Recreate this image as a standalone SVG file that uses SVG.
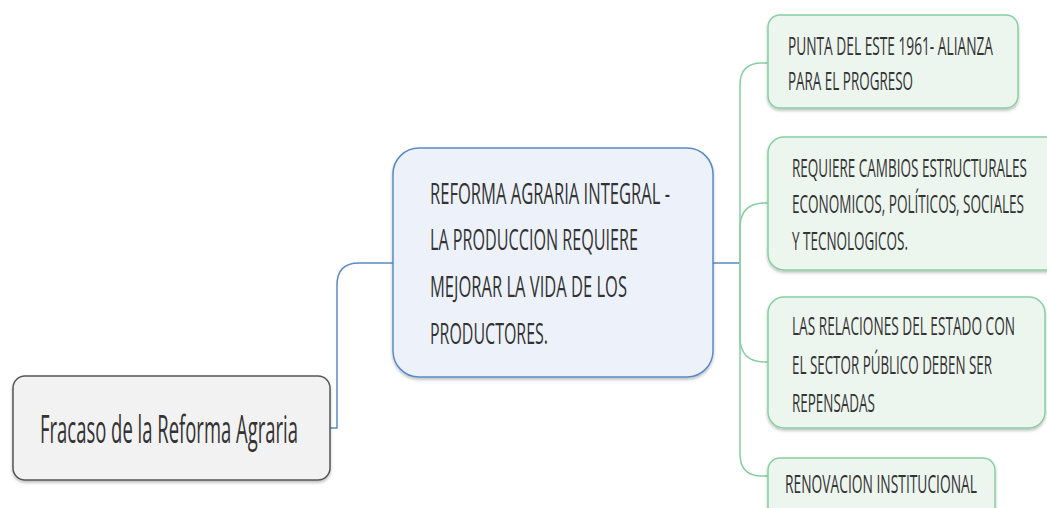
<svg xmlns="http://www.w3.org/2000/svg" width="1047" height="508" viewBox="0 0 1047 508">
<defs>
<filter id="sh" x="-10%" y="-10%" width="120%" height="130%">
<feDropShadow dx="0" dy="2" stdDeviation="1.5" flood-color="#000" flood-opacity="0.25"/>
</filter>
</defs>
<style>
.t{font-family:"Open Sans","Noto Sans","DejaVu Sans",sans-serif;fill:#333;}
.root{fill:#f2f2f2;stroke:#555;stroke-width:1.5;}
.main{fill:#edf2fa;stroke:#5a8ac6;stroke-width:1.5;}
.leaf{fill:#edf5ef;stroke:#86cfa0;stroke-width:1.5;}
.cb{fill:none;stroke:#5a8ac6;stroke-width:1.5;}
.cg{fill:none;stroke:#86cfa0;stroke-width:1.5;}
</style>
<g id="connectors">
<path class="cb" d="M330,428 H337 V285 Q337,263 359,263 H393"/>
<path class="cb" d="M713,263 H740"/>
<path class="cg" d="M740,263 V85 Q740,63 762,63 H768"/>
<path class="cg" d="M740,263 V228 Q740,203 765,203 H768"/>
<path class="cg" d="M740,263 V337 Q740,362 765,362 H768"/>
<path class="cg" d="M740,263 V454 Q740,476 762,476 H768"/>
</g>
<g id="root">
<rect class="root" x="13" y="376" width="317" height="104" rx="12" filter="url(#sh)"/>
<text class="t" x="40" y="443" font-size="38" textLength="258" lengthAdjust="spacingAndGlyphs">Fracaso de la Reforma Agraria</text>
</g>
<g id="main">
<rect class="main" x="393" y="148" width="320" height="229" rx="26" filter="url(#sh)"/>
<text class="t" font-size="29" x="430" y="204" textLength="240" lengthAdjust="spacingAndGlyphs">REFORMA AGRARIA INTEGRAL -</text>
<text class="t" font-size="29" x="430" y="250" textLength="208" lengthAdjust="spacingAndGlyphs">LA PRODUCCION REQUIERE</text>
<text class="t" font-size="29" x="430" y="297" textLength="197" lengthAdjust="spacingAndGlyphs">MEJORAR LA VIDA DE LOS</text>
<text class="t" font-size="29" x="430" y="344" textLength="118" lengthAdjust="spacingAndGlyphs">PRODUCTORES.</text>
</g>
<g id="c1">
<rect class="leaf" x="768" y="15" width="250" height="93" rx="12" filter="url(#sh)"/>
<text class="t" font-size="25" x="788" y="55" textLength="205" lengthAdjust="spacingAndGlyphs">PUNTA DEL ESTE 1961- ALIANZA</text>
<text class="t" font-size="25" x="788" y="90" textLength="125" lengthAdjust="spacingAndGlyphs">PARA EL PROGRESO</text>
</g>
<g id="c2">
<rect class="leaf" x="768" y="137" width="300" height="133" rx="16" filter="url(#sh)"/>
<text class="t" font-size="25" x="792" y="177" textLength="235" lengthAdjust="spacingAndGlyphs">REQUIERE CAMBIOS ESTRUCTURALES</text>
<text class="t" font-size="25" x="792" y="213" textLength="232" lengthAdjust="spacingAndGlyphs">ECONOMICOS, POLÍTICOS, SOCIALES</text>
<text class="t" font-size="25" x="792" y="250" textLength="116" lengthAdjust="spacingAndGlyphs">Y TECNOLOGICOS.</text>
</g>
<g id="c3">
<rect class="leaf" x="768" y="297" width="277" height="131" rx="16" filter="url(#sh)"/>
<text class="t" font-size="25" x="792" y="335" textLength="223" lengthAdjust="spacingAndGlyphs">LAS RELACIONES DEL ESTADO CON</text>
<text class="t" font-size="25" x="792" y="374" textLength="200" lengthAdjust="spacingAndGlyphs">EL SECTOR PÚBLICO DEBEN SER</text>
<text class="t" font-size="25" x="792" y="412" textLength="83" lengthAdjust="spacingAndGlyphs">REPENSADAS</text>
</g>
<g id="c4">
<rect class="leaf" x="768" y="458" width="227" height="80" rx="12" filter="url(#sh)"/>
<text class="t" font-size="25" x="785" y="493" textLength="192" lengthAdjust="spacingAndGlyphs">RENOVACION INSTITUCIONAL</text>
</g>
</svg>
